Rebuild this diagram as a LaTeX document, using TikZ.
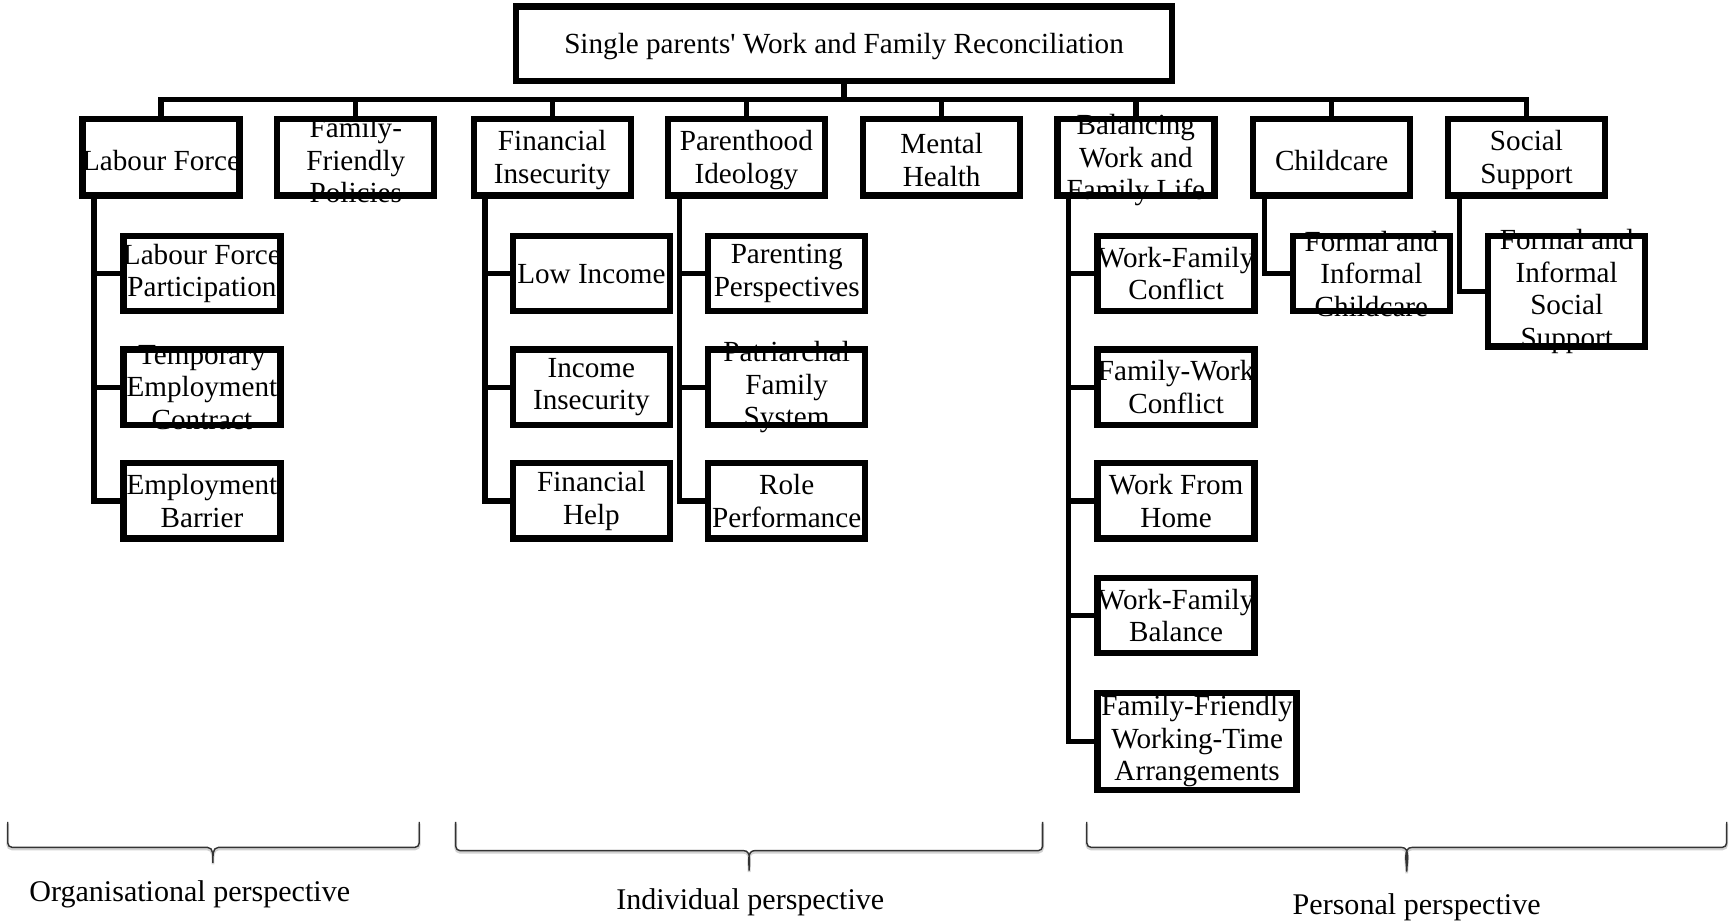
\documentclass[tikz,border=0pt]{standalone}
\usepackage{fontspec}
\setmainfont{Liberation Serif}[Ligatures=TeXOff]
\usepackage{tikz}
\usetikzlibrary{arrows.meta}
\definecolor{bracegray}{rgb}{0.2, 0.2, 0.2}
\tikzset{
  txt/.style={font=\fontsize{16.6}{18.5}\selectfont, align=center, inner sep=0pt},
  persptxt/.style={font=\fontsize{17.1}{20}\selectfont, inner sep=0pt},
  rootbox/.style={draw, line width=3.6pt, minimum width=13.11cm, minimum height=1.485cm, inner sep=0pt},
  catbox/.style={draw, line width=3.6pt, minimum width=3.14cm, minimum height=1.53cm, inner sep=0pt},
  subbox/.style={draw, line width=3.6pt, minimum width=3.14cm, minimum height=1.506cm, inner sep=0pt},
  link/.style={line width=3pt},
  braceline/.style={line width=0.8pt, draw=bracegray,
    preaction={draw=black!18, line width=1.6pt, transform canvas={yshift=-0.9pt}}},
}

\begin{document}
\begin{tikzpicture}[x=0.022066cm, y=-0.022066cm]
      \useasboundingbox (0,0) rectangle (1568,837);

      % top of the tree
      \node[rootbox, label={[txt, yshift=-0.05cm]center:Single parents' Work and Family Reconciliation}] (root) at (765,39.5) {};
      \coordinate (bus) at (765,90);

      \node[catbox, label={[txt, yshift=-0.06cm]center:Labour Force}] (lf) at (146,142.5) {};
      \node[catbox, label={[txt, yshift=-0.06cm]center:{Family-\\Friendly\\Policies}}] (ffp) at (322.5,142.5) {};
      \node[catbox, label={[txt, yshift=-0.06cm]center:{Financial\\Insecurity}}] (fi) at (500.5,142.5) {};
      \node[catbox, label={[txt, yshift=-0.06cm]center:{Parenthood\\Ideology}}] (pi) at (676.5,142.5) {};
      \node[catbox, label={[txt, yshift=-0.06cm]center:{Mental\\Health}}] (mh) at (853.5,142.5) {};
      \node[catbox, label={[txt, yshift=-0.06cm]center:{Balancing\\Work and\\Family Life}}] (bw) at (1029.5,142.5) {};
      \node[catbox, label={[txt, yshift=-0.06cm]center:Childcare}] (cc) at (1207,142.5) {};
      \node[catbox, label={[txt, yshift=-0.06cm]center:{Social\\Support}}] (ss) at (1383.5,142.5) {};

      \draw[link] (root.south) -- (bus);
      \foreach \cat in {lf,ffp,fi,pi,mh,bw,cc,ss}
      {
        \draw[link] (\cat.north) |- (bus);
      }

      % labour force
      \node[subbox, label={[txt]center:{Labour Force\\Participation}}] (lfp) at (183,248) {};
      \node[subbox, label={[txt]center:{Temporary\\Employment\\Contract}}] (tec) at (183,351) {};
      \node[subbox, label={[txt]center:{Employment\\Barrier}}] (eb) at (183,454) {};
      \draw[link] ([xshift=0.29cm]lf.south west) |- (lfp.west);
      \draw[link] ([xshift=0.29cm]lf.south west) |- (tec.west);
      \draw[link] ([xshift=0.29cm]lf.south west) |- (eb.west);

      % financial insecurity
      \node[subbox, label={[txt]center:Low Income}] (li) at (536,248) {};
      \node[subbox, label={[txt]center:{Income\\Insecurity}}] (ii) at (536,351) {};
      \node[subbox, label={[txt]center:{Financial\\Help}}] (fh) at (536,454) {};
      \draw[link] ([xshift=0.29cm]fi.south west) |- (li.west);
      \draw[link] ([xshift=0.29cm]fi.south west) |- (ii.west);
      \draw[link] ([xshift=0.29cm]fi.south west) |- (fh.west);

      % parenthood ideology
      \node[subbox, label={[txt]center:{Parenting\\Perspectives}}] (pp) at (713,248) {};
      \node[subbox, label={[txt]center:{Patriarchal\\Family\\System}}] (pfs) at (713,351) {};
      \node[subbox, label={[txt]center:{Role\\Performance}}] (rp) at (713,454) {};
      \draw[link] ([xshift=0.29cm]pi.south west) |- (pp.west);
      \draw[link] ([xshift=0.29cm]pi.south west) |- (pfs.west);
      \draw[link] ([xshift=0.29cm]pi.south west) |- (rp.west);

      % balancing work and family life
      \node[subbox, label={[txt]center:{Work-Family\\Conflict}}] (wfc) at (1066,248) {};
      \node[subbox, label={[txt]center:{Family-Work\\Conflict}}] (fwc) at (1066,351) {};
      \node[subbox, label={[txt]center:{Work From\\Home}}] (wfh) at (1066,454) {};
      \node[subbox, label={[txt]center:{Work-Family\\Balance}}] (wfb) at (1066,558) {};
      \node[subbox, minimum width=3.98cm, minimum height=1.95cm, label={[txt]center:{Family-Friendly\\Working-Time\\Arrangements}}] (ffwta) at (1085,672) {};
      \foreach \sub in {wfc,fwc,wfh,wfb,ffwta}
      {
        \draw[link] ([xshift=0.29cm]bw.south west) |- (\sub.west);
      }

      % childcare and social support
      \node[subbox, label={[txt]center:{Formal and\\Informal\\Childcare}}] (fic) at (1243,248) {};
      \node[subbox, minimum height=2.21cm, label={[txt]center:{Formal and\\Informal\\Social\\Support}}] (fiss) at (1420,264) {};
      \draw[link] ([xshift=0.29cm]cc.south west) |- (fic.west);
      \draw[link] ([xshift=0.29cm]ss.south west) |- (fiss.west);

      % perspectives
      \draw[braceline] (7,745) -- (7,764) to[out=-90,in=180] (11,768) -- (188,768)
        to[out=0,in=90] (193,782) to[out=90,in=180] (198,768) -- (376,768) to[out=0,in=-90] (380,764) -- (380,745);
      \draw[braceline] (413,745) -- (413,767) to[out=-90,in=180] (417,771) -- (674,771)
        to[out=0,in=90] (679,789) to[out=90,in=180] (684,771) -- (941,771) to[out=0,in=-90] (945,767) -- (945,745);
      \draw[braceline] (985,745) -- (985,764) to[out=-90,in=180] (989,768) -- (1270,768)
        to[out=0,in=90] (1275,790) to[out=90,in=180] (1280,768) -- (1561,768) to[out=0,in=-90] (1565,764) -- (1565,745);
      \node[persptxt] (org) at (172,811) {Organisational perspective};
      \node[persptxt] (ind) at (680,818) {Individual perspective};
      \node[persptxt] (pers) at (1284,822) {Personal perspective};

\end{tikzpicture}
\end{document}
